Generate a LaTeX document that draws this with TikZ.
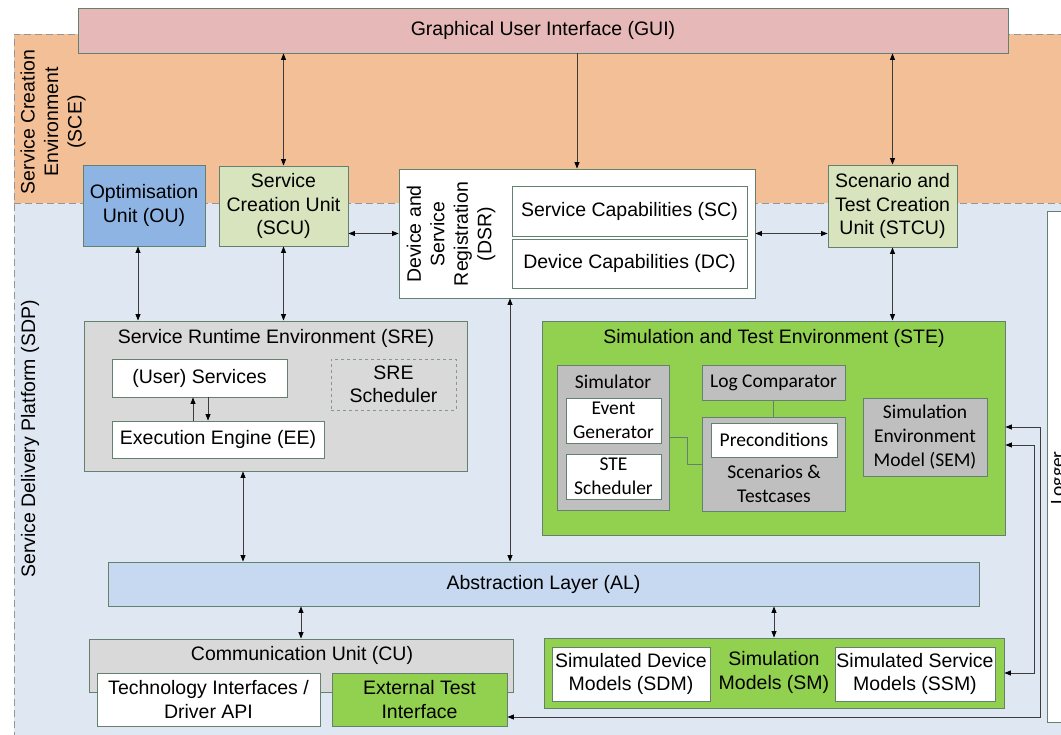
\documentclass[tikz,border=0pt]{standalone}
\usepackage{fontspec}
\setmainfont{Liberation Sans}
\newfontfamily\carlitofont{Carlito}
\usetikzlibrary{arrows.meta,calc}
\definecolor{sceC}{RGB}{243,191,150}
\definecolor{sdpC}{RGB}{223,232,242}
\definecolor{guiC}{RGB}{230,184,183}
\definecolor{ouC}{RGB}{142,180,227}
\definecolor{scuC}{RGB}{215,228,189}
\definecolor{greyC}{RGB}{217,217,217}
\definecolor{greyTwoC}{RGB}{191,191,191}
\definecolor{greenC}{RGB}{146,208,80}
\definecolor{alC}{RGB}{198,217,241}
\definecolor{bordC}{RGB}{100,128,110}
\definecolor{lineC}{RGB}{60,60,60}
\definecolor{dashC}{RGB}{150,150,150}
\newcommand\fs{\fontsize{19.5}{23.5}\selectfont}
\newcommand\cfs{\carlitofont\fontsize{19.5}{24}\selectfont}
\tikzset{
  box/.style={draw=bordC, line width=0.9pt, inner sep=0pt, align=center, font=\fs},
  cbox/.style={box, font=\cfs},
  sz/.style 2 args={minimum width=#1pt, minimum height=#2pt},
  txt/.style={align=center, font=\fs, inner sep=1pt},
  ctxt/.style={align=center, font=\cfs, inner sep=1pt},
  zone/.style={draw=dashC, line width=0.9pt, dash pattern=on 7pt off 4pt},
  tip/.tip={Triangle[length=6.5pt,width=5pt,color=black]},
  arr/.style={draw=lineC, line width=0.8pt, -tip},
  darr/.style={draw=lineC, line width=0.8pt, tip-tip},
  link/.style={draw=bordC, line width=0.9pt}
}
\begin{document}
\begin{tikzpicture}[x=1pt,y=-1pt]
\useasboundingbox (0,0) rectangle (1061,735);
\clip (0,0) rectangle (1061,735);
% zones
\fill[sdpC] (14,203) rectangle (1080,750);
\fill[sceC] (14,34) rectangle (1080,203);
\draw[zone] (14,750) -- (14,34) -- (1080,34);
\draw[zone] (14,203) -- (1080,203);
\node[txt, rotate=90] (sceT) at (53,122) {Service Creation\\Environment\\(SCE)};
\node[txt, rotate=90] (sdpT) at (30,439) {Service Delivery Platform (SDP)};

% logger
\node[box, fill=white, sz={45}{511}] (logger) at (1069.5,466.5) {};
\node[ctxt, rotate=90] (loggerT) at (1059,478) {Logger};

% top
\node[box, fill=guiC, sz={930}{45}] (gui) at (543,30.5) {Graphical User Interface (GUI)};
\node[box, fill=ouC, sz={122}{81}] (ou) at (144,205.5) {Optimisation\\Unit (OU)};
\node[box, fill=scuC, sz={129}{80}] (scu) at (283.5,206) {Service\\Creation Unit\\(SCU)};
\node[box, fill=white, sz={356}{129}] (dsr) at (577,233.5) {};
\node[txt, rotate=90] (dsrT) at (451,234) {Device and\\Service\\Registration\\(DSR)};
\node[box, fill=white, sz={235}{50}] (sc) at (629.5,211) {Service Capabilities (SC)};
\node[box, fill=white, sz={235}{49}] (dc) at (629.5,263.5) {Device Capabilities (DC)};
\node[box, fill=scuC, sz={129}{82}] (stcu) at (892.5,206) {Scenario and\\Test Creation\\Unit (STCU)};

% SRE
\node[box, fill=greyC, sz={383}{150}] (sre) at (275.5,396) {};
\node[txt] (sreT) at (276,338) {Service Runtime Environment (SRE)};
\node[box, fill=white, sz={175}{38}] (us) at (199.5,378) {(User) Services};
\node[box, fill=white, sz={212}{37}] (ee) at (218,439.5) {Execution Engine (EE)};
\node[box, fill=none, dashed, draw=bordC!80, sz={125}{51}] (sres) at (393.5,384.5) {SRE\\Scheduler};

% STE
\node[box, fill=greenC, sz={463}{214}] (ste) at (773.5,428) {};
\node[txt] (steT) at (774,338) {Simulation and Test Environment (STE)};
\node[cbox, fill=greyTwoC, sz={112}{145}] (sim) at (613,437.5) {};
\node[ctxt] (simT) at (613,382) {Simulator};
\node[cbox, fill=white, sz={95}{45}] (eg) at (613.5,420.5) {Event\\Generator};
\node[cbox, fill=white, sz={95}{45}] (stes) at (613.5,476.5) {STE\\Scheduler};
\node[cbox, fill=greyTwoC, sz={143}{35}] (logc) at (773.5,382.5) {Log Comparator};
\node[cbox, fill=greyTwoC, sz={143}{94}] (scen) at (773.5,464) {};
\node[cbox, fill=white, sz={126}{34}] (pre) at (774,440) {Preconditions};
\node[ctxt] (scenT) at (774,484) {Scenarios \&\\Testcases};
\node[cbox, fill=greyTwoC, sz={124}{78}] (sem) at (925,437) {Simulation\\Environment\\Model (SEM)};
\draw[link] (logc.south) -- (scen.north);
\draw[link] (sim.east) -- ++(18,0) |- (scen.west);

% AL
\node[box, fill=alC, sz={871}{44}] (al) at (543.5,584) {Abstraction Layer (AL)};

% CU
\node[box, fill=greyC, sz={424}{53}] (cu) at (301,665.5) {};
\node[txt] (cuT) at (302,655) {Communication Unit (CU)};
\node[box, fill=white, sz={223}{53}] (ti) at (208.5,699.5) {Technology Interfaces /\\Driver API};
\node[box, fill=greenC, sz={175}{53}] (eti) at (419.5,699.5) {External Test\\Interface};

% SM
\node[box, fill=greenC, sz={460}{70}] (sm) at (774,673) {};
\node[txt] (smT) at (774,672.5) {Simulation\\Models (SM)};
\node[box, fill=white, sz={158}{54}] (sdm) at (631,674) {Simulated Device\\Models (SDM)};
\node[box, fill=white, sz={160}{54}] (ssm) at (915,674) {Simulated Service\\Models (SSM)};

% connectors
\draw[darr] (scu.north |- gui.south) -- (scu.north);
\draw[arr] (dsr.north |- gui.south) -- (dsr.north);
\draw[darr] (stcu.north |- gui.south) -- (stcu.north);
\draw[darr] ($(ou.south)+(-6,0)$) -- ($(ou.south |- sre.north)+(-6,0)$);
\draw[darr] (scu.south) -- (scu.south |- sre.north);
\draw[darr] (dsr.west -| scu.east) -- (dsr.west);
\draw[darr] (dsr.east) -- (dsr.east -| stcu.west);
\draw[darr] (stcu.south) -- (stcu.south |- ste.north);
\draw[darr] ($(dsr.south)+(-67,0)$) -- ($(dsr.south |- al.north)+(-67,0)$);
\draw[darr] ($(sre.south)+(-32.5,0)$) -- ($(sre.south |- al.north)+(-32.5,0)$);
\draw[darr] (cu.north |- al.south) -- (cu.north);
\draw[darr] (sm.north |- al.south) -- (sm.north);
\draw[arr] ($(ee.north)+(-25,0)$) -- ($(us.south -| ee.north)+(-25,0)$);
\draw[arr] ($(us.south -| ee.north)+(-10,0)$) -- ($(ee.north)+(-10,0)$);
\coordinate (o1) at (1040,717);
\coordinate (o2) at (1040,427);
\coordinate (i1) at (1034,673);
\coordinate (i2) at (1034,445);
\draw[darr] (eti.east |- o1) -- (o1) -- (o2) -- (o2 -| ste.east);
\draw[darr] (sm.east |- i1) -- (i1) -- (i2) -- (i2 -| ste.east);
\end{tikzpicture}
\end{document}
